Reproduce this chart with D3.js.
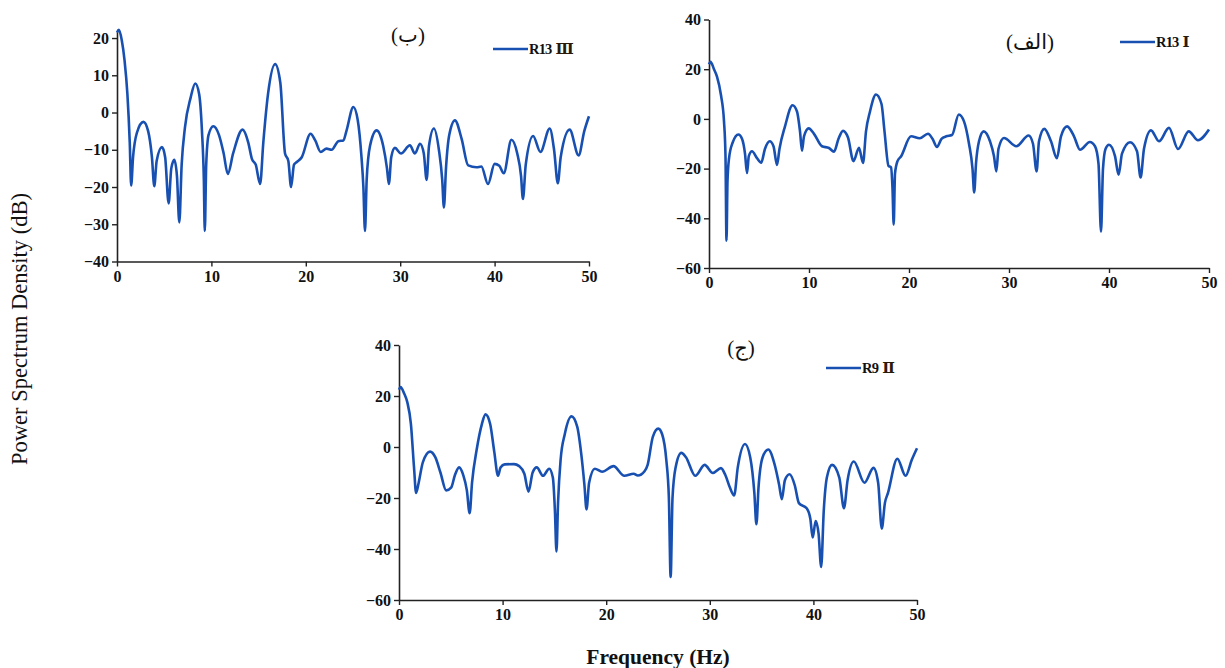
<!DOCTYPE html>
<html>
<head>
<meta charset="utf-8">
<script src="https://cdn.jsdelivr.net/npm/d3@7"></script>
<style>
  html, body { margin: 0; padding: 0; background: #fff; }
  svg { display: block; }
</style>
</head>
<body>
<svg id="chart" width="1225" height="668"></svg>
<script>
// ---------- data ----------
const xTicks = [0, 10, 20, 30, 40, 50];
const yTicksB = [-40, -30, -20, -10, 0, 10, 20];
const yTicksA = [-60, -40, -20, 0, 20, 40];
const yTicksC = [-60, -40, -20, 0, 20, 40];

const titleA = "(الف)";
const titleB = "(ب)";
const titleC = "(ج)";
const legendA = ["R13", "I"];
const legendB = ["R13", "Ⅲ"];
const legendC = ["R9", "Ⅱ"];

const yLabel = "Power Spectrum Density (dB)";
const xLabel = "Frequency (Hz)";

// Panel B  (R13 III)
const freqB = [0,0.2,0.5,0.8,1.1,1.35,1.5,1.7,2.1,2.8,3.3,3.7,3.95,4.2,4.76,5.1,5.47,5.75,6.07,6.35,6.6,6.85,7.2,7.8,8.29,8.7,9.0,9.2,9.3,9.45,9.7,10.2,10.8,11.3,11.74,12.3,13.3,13.9,14.3,14.7,15.16,15.5,16.0,16.75,17.3,17.8,18.15,18.44,18.75,19.04,19.57,20.5,21.0,21.58,22.2,22.74,23.45,23.98,24.3,25.04,25.5,25.9,26.1,26.27,26.45,26.8,27.5,28.2,28.6,28.8,29.05,29.44,30.08,31.03,31.56,32.1,32.5,32.8,33.05,33.57,34.1,34.45,34.63,34.85,35.2,35.8,36.5,37.2,38.08,38.6,39.3,40.0,40.5,40.97,41.78,42.4,42.8,43.0,43.3,44.08,44.85,45.84,46.3,46.7,47.0,47.95,48.9,49.5,50];
const psdB  = [21.5,22.2,19.5,14,5,-8,-19.6,-12,-5.5,-2.5,-5,-12,-19.8,-13,-9.3,-12,-24.4,-15,-12.7,-17,-29.5,-14,-4,4,7.8,5,-5,-18,-31.8,-14,-6,-3.7,-6,-11,-16.5,-11,-4.6,-8,-12.5,-14,-19.2,-8,5,13,8,-11,-13,-20,-14,-13.3,-12,-5.7,-7.5,-10.6,-9.7,-10,-7.7,-7.5,-5,1.5,-2,-12,-20,-31.8,-18,-9,-4.8,-9,-15,-19.2,-12,-9.5,-11,-8.8,-11,-8.4,-11,-18.1,-9,-4.3,-10,-18,-25.5,-15,-6,-2.1,-7,-14.2,-14.7,-14.5,-19.2,-13.8,-14.3,-16.3,-7.3,-11,-17,-23.2,-14,-6.3,-10.6,-4.3,-10,-19,-12,-4.6,-11.5,-5,-1];

// Panel A  (R13 I)
const freqA = [0,0.15,0.5,0.8,1.2,1.5,1.65,1.75,1.85,2.0,2.35,2.94,3.3,3.6,3.8,3.98,4.3,4.8,5.22,5.6,6.07,6.45,6.8,7.05,7.6,8.35,8.8,9.1,9.3,9.5,9.97,10.5,11.3,12.0,12.5,12.95,13.4,13.9,14.45,15.0,15.4,15.7,16.1,16.7,17.25,17.55,17.95,18.2,18.35,18.47,18.6,18.85,19.2,20.2,21.07,21.9,22.35,22.8,23.25,23.73,24.3,24.98,25.5,26.0,26.35,26.52,26.7,27.0,27.47,28.1,28.5,28.73,28.95,29.5,30.73,31.96,32.4,32.76,33.0,33.53,34.2,34.79,35.2,35.81,36.5,37.1,38.09,38.6,38.95,39.2,39.4,39.66,40.0,40.6,40.96,41.3,42.1,42.8,43.16,43.5,44.2,45.0,46.0,46.9,47.97,48.9,50];
const psdA  = [22,23,20,17,9.5,-1,-15,-49,-25,-16,-9.7,-6.3,-8,-14,-21.8,-15,-13,-15.8,-17.6,-12,-9,-11,-18.5,-12,-3,5.5,3,-5,-12.8,-7,-3.8,-6,-11,-11.7,-13.2,-8,-4.8,-7.5,-17,-11.6,-17.7,-5,3,9.8,6,-5,-18.9,-19.5,-28,-42.5,-22,-17,-15.1,-7,-7.8,-6,-8,-11.3,-8,-7,-6.5,1.8,-1,-10,-20,-29.6,-18,-9,-5,-9,-15,-21.1,-12,-7.7,-11,-6.7,-10,-21.1,-9,-4,-9,-15.8,-7,-3,-7,-12.4,-9.3,-11,-18,-45.4,-20,-12,-10.4,-15,-22.5,-14,-9.4,-13,-23.6,-12,-4.6,-9,-3.6,-12.1,-5,-8.6,-4.3];

// Panel C  (R9 II)
const freqC = [0,0.15,0.5,0.8,1.15,1.45,1.65,1.9,2.3,3.0,3.5,4.0,4.55,5.05,5.4,5.8,6.2,6.55,6.82,7.05,7.5,8.0,8.35,8.8,9.2,9.56,9.8,10.2,11.1,11.6,12.1,12.5,12.9,13.3,13.9,14.5,14.85,15.05,15.2,15.35,15.6,16.0,16.65,17.2,17.6,17.9,18.1,18.35,18.9,19.6,20.7,21.75,22.65,23.05,23.7,24.0,24.5,25.03,25.4,25.8,26.05,26.22,26.4,26.7,27.25,27.7,28.6,29.5,30.3,31.08,31.5,31.95,32.35,32.7,33.4,33.9,34.3,34.5,34.7,35.1,35.65,36.2,36.7,36.95,37.25,37.7,38.2,38.6,39.35,39.7,39.93,40.22,40.5,40.75,41.0,41.3,41.8,42.5,42.95,43.3,43.9,44.93,45.8,46.25,46.6,46.9,47.2,48.1,48.9,49.5,50];
const psdC  = [22.5,23.5,21,17.6,9,-8,-18,-14,-6,-1.8,-4,-10,-17,-15.8,-11,-8,-11,-17,-26,-14,-1,9,12.8,9,-2,-11.3,-8,-6.8,-6.7,-7.5,-10.5,-17.5,-10,-8,-11.3,-8.5,-12,-25,-41,-22,-5,5,12,8,-3,-15,-24.5,-14,-8.5,-9.7,-7.5,-11.3,-10.5,-11.2,-9.5,-7,4,7.2,5,-5,-20,-51,-20,-8,-2.3,-4,-11.3,-7,-10.2,-8.3,-11,-16,-19,-8,1.2,-4,-18,-30.3,-16,-4,-1,-6,-15,-20.5,-13,-10.7,-15,-22,-24,-28,-35.5,-29,-34,-47,-25,-12,-7,-12,-24,-13,-5.7,-14,-8.2,-14,-32,-22,-18,-4.6,-11.3,-5,-0.5];

// ---------- drawing ----------
const svg = d3.select("#chart");
const lineColor = "#1850b2";
const serif = "'Liberation Serif', 'Times New Roman', serif";

function drawPanel(p) {
  const x = d3.scaleLinear().domain([0, 50]).range([p.x0, p.x1]);
  const y = d3.scaleLinear().domain(p.yDomain).range([p.y0, p.y1]);
  const g = svg.append("g");

  const xAxis = d3.axisBottom(x).tickValues(xTicks).tickSize(5).tickPadding(4).tickSizeOuter(0);
  const yAxis = d3.axisLeft(y).tickValues(p.yTicks).tickSize(5).tickPadding(3).tickSizeOuter(0);

  const gx = g.append("g").attr("transform", `translate(0,${y(p.yDomain[0])})`).call(xAxis);
  const gy = g.append("g").attr("transform", `translate(${x(0)},0)`).call(yAxis);
  [gx, gy].forEach(a => {
    a.select(".domain").attr("stroke", "#222").attr("stroke-width", 1.6);
    a.selectAll(".tick line").attr("stroke", "#222").attr("stroke-width", 1.4);
    a.selectAll(".tick text")
      .attr("font-family", serif).attr("font-weight", "bold")
      .attr("font-size", 16).attr("fill", "#111");
  });

  const pts = p.freq.map((f, i) => [f, p.psd[i]]);
  const line = d3.line().x(d => x(d[0])).y(d => y(d[1])).curve(d3.curveMonotoneX);
  g.append("path").datum(pts).attr("d", line)
    .attr("fill", "none").attr("stroke", lineColor).attr("stroke-width", 2.6)
    .attr("stroke-linejoin", "round");

  // title
  g.append("text").attr("x", p.titleX).attr("y", p.titleY)
    .attr("text-anchor", "middle")
    .attr("font-family", "'Liberation Serif', 'DejaVu Sans', serif")
    .attr("font-size", 21).attr("fill", "#111")
    .text(p.title);

  // legend
  g.append("line").attr("x1", p.legX).attr("x2", p.legX + 35)
    .attr("y1", p.legY).attr("y2", p.legY)
    .attr("stroke", lineColor).attr("stroke-width", 2.6);
  const t = g.append("text").attr("x", p.legX + 36).attr("y", p.legY + 5)
    .attr("font-family", serif).attr("font-weight", "bold")
    .attr("font-size", 14.5).attr("fill", "#111").attr("letter-spacing", -0.8);
  t.append("tspan").text(p.legend[0]);
  t.append("tspan").attr("dx", 4)
    .attr("font-family", "'DejaVu Serif', 'Liberation Serif', serif")
    .attr("font-size", 15).attr("fill", "#2a1a08").attr("letter-spacing", 0).text(p.legend[1]);
}

drawPanel({ freq: freqB, psd: psdB, yTicks: yTicksB, yDomain: [-40, 21.7],
  x0: 117, x1: 589, y0: 261.5, y1: 31.7,
  title: titleB, titleX: 408, titleY: 42, legend: legendB, legX: 493, legY: 49 });

drawPanel({ freq: freqA, psd: psdA, yTicks: yTicksA, yDomain: [-60, 40],
  x0: 709, x1: 1209, y0: 268, y1: 19.5,
  title: titleA, titleX: 1030, titleY: 49, legend: legendA, legX: 1120, legY: 42 });

drawPanel({ freq: freqC, psd: psdC, yTicks: yTicksC, yDomain: [-60, 40],
  x0: 399, x1: 917, y0: 600, y1: 345,
  title: titleC, titleX: 741, titleY: 355, legend: legendC, legX: 826, legY: 368 });

// axis titles
svg.append("text")
  .attr("transform", "translate(27,329) rotate(-90)")
  .attr("text-anchor", "middle")
  .attr("font-family", serif).attr("font-size", 22.5).attr("fill", "#111")
  .text(yLabel);

svg.append("text")
  .attr("x", 658).attr("y", 664)
  .attr("text-anchor", "middle")
  .attr("font-family", serif).attr("font-weight", "bold")
  .attr("font-size", 21.5).attr("fill", "#111")
  .text(xLabel);
</script>
</body>
</html>
